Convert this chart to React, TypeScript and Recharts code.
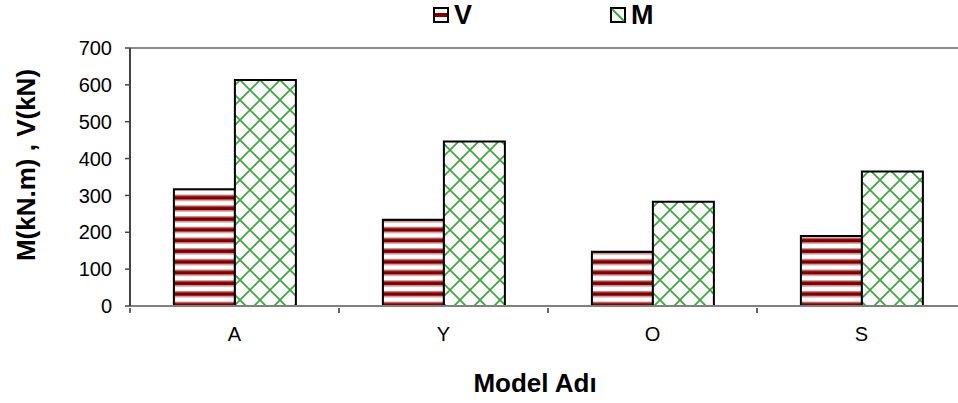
import React from "react";
import {
  BarChart,
  Bar,
  XAxis,
  YAxis,
  Legend,
  ReferenceLine,
} from "recharts";

const models = ["A", "Y", "O", "S"];
const shearV = [317, 234, 147, 190];
const momentM = [613, 446, 283, 365];
const yTicks = [0, 100, 200, 300, 400, 500, 600, 700];

const data = models.map((name, i) => ({ name, V: shearV[i], M: momentM[i] }));

const FONT = "'Liberation Sans', Arial, sans-serif";

const ModelTick = (props: any) => {
  const { x, y, payload, index, visibleTicksCount } = props;
  const off = payload.offset || 0;
  return (
    <g>
      <line x1={x - off} y1={y} x2={x - off} y2={y + 5} stroke="#333" strokeWidth={1.5} />
      {index === visibleTicksCount - 1 && (
        <line x1={x + off} y1={y} x2={x + off} y2={y + 5} stroke="#333" strokeWidth={1.5} />
      )}
      <text x={x} y={y + 19} dy="0.71em" textAnchor="middle" fontSize={20} fontFamily={FONT} fill="#000">
        {payload.value}
      </text>
    </g>
  );
};

const ValueTick = (props: any) => {
  const { x, y, payload } = props;
  return (
    <text x={x} y={y} dy="0.355em" textAnchor="end" fontSize={20} fontFamily={FONT} fill="#000">
      {payload.value}
    </text>
  );
};

const YTitle = (props: any) => {
  const { viewBox } = props;
  const cx = viewBox.x + 26;
  const cy = viewBox.y + viewBox.height / 2 - 12;
  return (
    <text
      x={cx}
      y={cy}
      transform={`rotate(-90, ${cx}, ${cy})`}
      textAnchor="middle"
      dominantBaseline="central"
      fontSize={26}
      fontWeight="bold"
      fontFamily={FONT}
      fill="#000"
    >
      M(kN.m) , V(kN)
    </text>
  );
};

const LegendIcon = ({ kind }: { kind: "V" | "M" }) => (
  <svg width={16} height={16} style={{ display: "block" }}>
    <rect x={1} y={1} width={14} height={14} fill="#fff" stroke="#000" strokeWidth={2} />
    {kind === "V" ? (
      <rect x={2} y={6} width={12} height={4} fill="#800000" />
    ) : (
      <line x1={2} y1={2} x2={14} y2={14} stroke="#3da53d" strokeWidth={2} />
    )}
  </svg>
);

const ChartLegend = () => (
  <div style={{ height: 48, display: "flex", alignItems: "flex-start", paddingLeft: 433, paddingTop: 4, boxSizing: "border-box" }}>
    {(["V", "M"] as const).map((k, i) => (
      <div key={k} style={{ display: "flex", alignItems: "center", marginRight: i === 0 ? 138 : 0 }}>
        <LegendIcon kind={k} />
        <span style={{ marginLeft: 5, fontSize: 27, fontWeight: "bold", fontFamily: FONT, lineHeight: "22px" }}>{k}</span>
      </div>
    ))}
  </div>
);

export default function App() {
  return (
    <div style={{ position: "absolute", left: 0, top: 0, width: 958, height: 403, overflow: "hidden", background: "#fff" }}>
      <BarChart
        width={980}
        height={403}
        data={data}
        margin={{ top: 0, right: 14, bottom: 0, left: 0 }}
        barCategoryGap="21%"
        barGap={0}
      >
        <defs>
          <pattern id="stripes" patternUnits="userSpaceOnUse" width={8} height={10.7}>
            <rect width={8} height={10.7} fill="#fff" />
            <rect y={2} width={8} height={1.2} fill="#c98f8f" />
            <rect y={3.2} width={8} height={4} fill="#800000" />
            <rect y={7.2} width={8} height={1.2} fill="#c98f8f" />
          </pattern>
          <pattern id="lattice" patternUnits="userSpaceOnUse" width={20} height={20}>
            <rect width={20} height={20} fill="#fff" />
            <path d="M-2,-2 L22,22 M22,-2 L-2,22" stroke="#3da53d" strokeWidth={1.7} />
          </pattern>
        </defs>
        <Legend verticalAlign="top" align="left" wrapperStyle={{ left: 0, top: 0, width: 958 }} content={<ChartLegend />} />
        <XAxis
          dataKey="name"
          height={97}
          tickLine={false}
          tickSize={0}
          axisLine={{ stroke: "#808080", strokeWidth: 2 }}
          tick={<ModelTick />}
          interval={0}
          label={{
            value: "Model Adı",
            position: "insideBottom",
            offset: 11,
            dx: -13,
            fontSize: 26,
            fontWeight: "bold",
            fontFamily: FONT,
            fill: "#000",
          }}
        />
        <YAxis
          width={130}
          domain={[0, 700]}
          ticks={yTicks}
          interval={0}
          tickSize={5}
          tickMargin={13}
          axisLine={{ stroke: "#444", strokeWidth: 2 }}
          tickLine={{ stroke: "#444", strokeWidth: 1.5 }}
          tick={<ValueTick />}
          label={<YTitle />}
        />
        <ReferenceLine y={700} stroke="#8c8c8c" strokeWidth={2} />
        <Bar dataKey="V" fill="url(#stripes)" stroke="#000" strokeWidth={2} isAnimationActive={false} />
        <Bar dataKey="M" fill="url(#lattice)" stroke="#000" strokeWidth={2} isAnimationActive={false} />
      </BarChart>
    </div>
  );
}
